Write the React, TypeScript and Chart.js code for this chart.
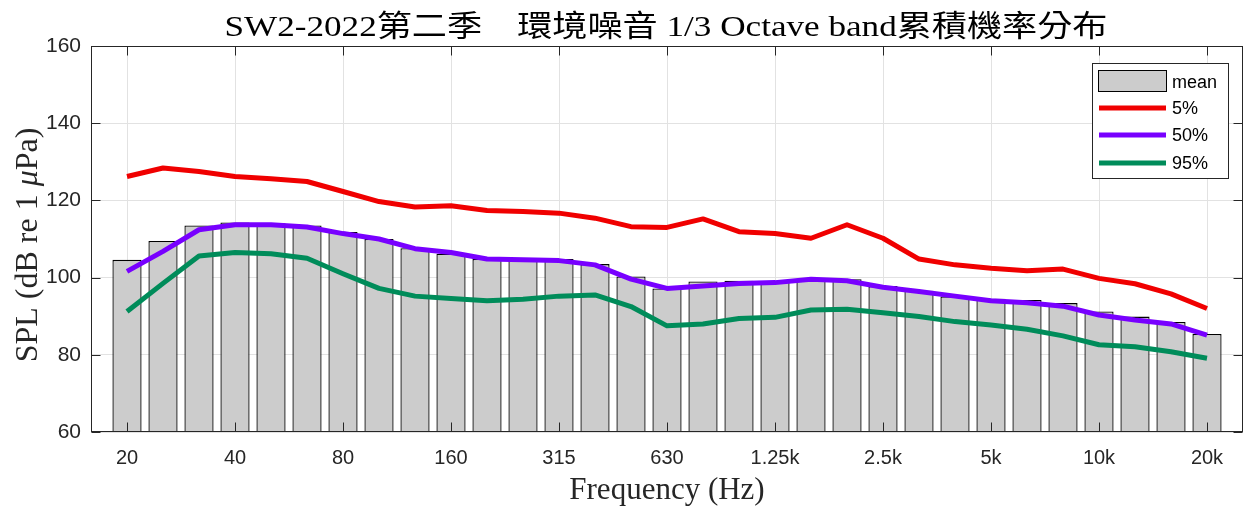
import React, { useEffect, useRef } from 'react';
import { Chart, registerables } from 'chart.js';

Chart.register(...registerables);

const bands = ['20', '25', '31.5', '40', '50', '63', '80', '100', '125', '160', '200', '250', '315', '400', '500', '630', '800', '1k', '1.25k', '1.6k', '2k', '2.5k', '3.15k', '4k', '5k', '6.3k', '8k', '10k', '12.5k', '16k', '20k'];
const tickBands = ['20', '40', '80', '160', '315', '630', '1.25k', '2.5k', '5k', '10k', '20k'];
const yTicks = [60, 80, 100, 120, 140, 160];

const meanLevel = [104.6, 109.5, 113.5, 114.3, 114.1, 113.5, 111.8, 110.0, 107.6, 106.2, 104.8, 104.5, 104.8, 103.5, 100.3, 97.2, 99.0, 99.2, 99.0, 99.4, 99.6, 97.8, 96.6, 95.1, 94.5, 94.2, 93.4, 91.2, 89.9, 88.5, 85.4];
const p5 = [126.2, 128.4, 127.5, 126.2, 125.6, 124.9, 122.3, 119.7, 118.3, 118.6, 117.4, 117.1, 116.7, 115.4, 113.2, 113.0, 115.2, 111.9, 111.4, 110.2, 113.7, 110.2, 104.8, 103.3, 102.4, 101.8, 102.2, 99.8, 98.4, 95.8, 92.0];
const p50 = [101.6, 106.8, 112.4, 113.7, 113.7, 113.1, 111.4, 110.0, 107.5, 106.5, 104.8, 104.6, 104.4, 103.3, 99.6, 97.2, 97.8, 98.5, 98.7, 99.6, 99.2, 97.5, 96.4, 95.2, 94.0, 93.5, 92.6, 90.3, 89.0, 88.0, 85.1];
const p95 = [91.2, 98.5, 105.6, 106.5, 106.2, 105.0, 101.0, 97.2, 95.2, 94.6, 94.0, 94.4, 95.2, 95.5, 92.5, 87.5, 88.0, 89.4, 89.7, 91.6, 91.8, 90.9, 89.9, 88.6, 87.7, 86.6, 84.9, 82.6, 82.1, 80.8, 79.1];

const legendLabels = ['mean', '5%', '50%', '95%'];
const titleText = 'SW2-2022第二季    環境噪音 1/3 Octave band累積機率分布';
const xTitle = 'Frequency (Hz)';

const COLORS = {
  bar: '#cccccc',
  barBorder: '#000000',
  p5: '#f00000',
  p50: '#7800ff',
  p95: '#008c5a',
  axis: '#262626',
  grid: '#e2e2e2',
};

const SERIF = '"Liberation Serif", "DejaVu Serif", "Noto Sans CJK TC", serif';
const SANS = '"Liberation Sans", Arial, sans-serif';

const toPts = (arr: number[]) => arr.map((y, i) => ({ x: i + 1, y }));

const overlay = {
  id: 'overlay',
  afterDraw(chart: any) {
    const { ctx, chartArea: a, scales } = chart;
    ctx.save();
    const L = Math.round(a.left) + 0.5;
    const R = Math.round(a.right) - 0.5;
    const T = Math.round(a.top) + 0.5;
    const B = Math.round(a.bottom) - 0.5;
    ctx.strokeStyle = COLORS.axis;
    ctx.lineWidth = 1;
    const tl = 9;
    ctx.beginPath();
    for (const lab of tickBands) {
      const px = Math.round(scales.x.getPixelForValue(bands.indexOf(lab) + 1)) + 0.5;
      ctx.moveTo(px, B); ctx.lineTo(px, B - tl);
      ctx.moveTo(px, T); ctx.lineTo(px, T + tl);
    }
    for (const v of yTicks) {
      const py = Math.round(scales.y.getPixelForValue(v)) + 0.5;
      ctx.moveTo(L, py); ctx.lineTo(L + tl, py);
      ctx.moveTo(R, py); ctx.lineTo(R - tl, py);
    }
    ctx.stroke();
    ctx.strokeRect(L, T, R - L, B - T);

    // legend
    const lx = 1092.5, ly = 63.5, lw = 136, lh = 115;
    ctx.fillStyle = '#ffffff';
    ctx.fillRect(lx, ly, lw, lh);
    ctx.strokeStyle = COLORS.axis;
    ctx.strokeRect(lx, ly, lw, lh);
    const rows = [82, 108, 135, 163];
    ctx.fillStyle = COLORS.bar;
    ctx.fillRect(1098.5, 70.5, 68, 21);
    ctx.strokeStyle = COLORS.barBorder;
    ctx.strokeRect(1098.5, 70.5, 68, 21);
    const lineCols = [COLORS.p5, COLORS.p50, COLORS.p95];
    lineCols.forEach((c, i) => {
      ctx.strokeStyle = c;
      ctx.lineWidth = 5;
      ctx.beginPath();
      ctx.moveTo(1099, rows[i + 1]);
      ctx.lineTo(1166, rows[i + 1]);
      ctx.stroke();
    });
    ctx.fillStyle = '#000000';
    ctx.font = `18px ${SANS}`;
    ctx.textAlign = 'left';
    ctx.textBaseline = 'middle';
    legendLabels.forEach((t, i) => ctx.fillText(t, 1172, rows[i] + 1));

    // title
    ctx.font = `30px ${SERIF}`;
    ctx.textBaseline = 'alphabetic';
    ctx.textAlign = 'center';
    const tw = ctx.measureText(titleText).width;
    ctx.save();
    ctx.translate(666, 36);
    ctx.scale(883 / tw, 1);
    ctx.fillText(titleText, 0, 0);
    ctx.restore();

    // x title
    ctx.font = `31px ${SERIF}`;
    ctx.fillStyle = '#262626';
    ctx.fillText(xTitle, 667, 499);

    // y title with italic mu
    const parts: [string, boolean][] = [['SPL (dB re 1 ', false], ['μ', true], ['Pa)', false]];
    const fs = 32;
    const widths = parts.map(([t, it]) => {
      ctx.font = `${it ? 'italic ' : ''}${fs}px ${SERIF}`;
      return ctx.measureText(t).width;
    });
    const total = widths.reduce((s, w) => s + w, 0);
    ctx.save();
    ctx.translate(37, 245);
    ctx.rotate(-Math.PI / 2);
    ctx.textAlign = 'left';
    let xx = -total / 2;
    parts.forEach(([t, it], i) => {
      ctx.font = `${it ? 'italic ' : ''}${fs}px ${SERIF}`;
      ctx.fillText(t, xx, 0);
      xx += widths[i];
    });
    ctx.restore();
    ctx.restore();
  },
};

export default function App() {
  const ref = useRef<HTMLCanvasElement | null>(null);
  useEffect(() => {
    document.body.style.margin = '0';
    const canvas = ref.current;
    if (!canvas) return;
    const lineDs = (label: string, data: number[], color: string, order: number) => ({
      type: 'line' as const,
      label,
      data: toPts(data),
      borderColor: color,
      backgroundColor: color,
      borderWidth: 5,
      pointRadius: 0,
      tension: 0,
      borderJoinStyle: 'round' as const,
      order,
    });
    const chart = new Chart(canvas, {
      type: 'bar',
      data: {
        datasets: [
          {
            type: 'bar',
            label: 'mean',
            data: toPts(meanLevel),
            backgroundColor: COLORS.bar,
            borderColor: COLORS.barBorder,
            borderWidth: 1.3,
            borderSkipped: false,
            barPercentage: 1,
            categoryPercentage: 0.81,
            order: 10,
          } as any,
          lineDs('5%', p5, COLORS.p5, 3),
          lineDs('50%', p50, COLORS.p50, 2),
          lineDs('95%', p95, COLORS.p95, 1),
        ],
      },
      options: {
        responsive: false,
        animation: false,
        layout: { padding: { top: 46, left: 0, right: 2, bottom: 0 } },
        plugins: {
          legend: { display: false },
          tooltip: { enabled: false },
          title: { display: false },
        },
        scales: {
          x: {
            type: 'linear',
            min: 0,
            max: 32,
            offset: false,
            afterBuildTicks: (s: any) => {
              s.ticks = tickBands.map((l) => ({ value: bands.indexOf(l) + 1 }));
            },
            afterFit: (s: any) => { s.height = 78; },
            border: { display: false },
            grid: { color: COLORS.grid, drawTicks: false, lineWidth: 1, offset: false },
            ticks: {
              autoSkip: false,
              maxRotation: 0,
              padding: 14,
              color: COLORS.axis,
              font: { family: SANS, size: 20 },
              callback: (v: any) => bands[Math.round(Number(v)) - 1] ?? '',
            },
          },
          y: {
            min: 60,
            max: 160,
            afterBuildTicks: (s: any) => {
              s.ticks = yTicks.map((v) => ({ value: v }));
            },
            afterFit: (s: any) => { s.width = 91; },
            border: { display: false },
            grid: { color: COLORS.grid, drawTicks: false, lineWidth: 1 },
            ticks: {
              padding: 10,
              color: COLORS.axis,
              font: { family: SANS, size: 21 },
            },
          },
        },
      },
      plugins: [overlay],
    } as any);
    return () => chart.destroy();
  }, []);
  return <canvas ref={ref} width={1245} height={510} style={{ display: 'block' }} />;
}
